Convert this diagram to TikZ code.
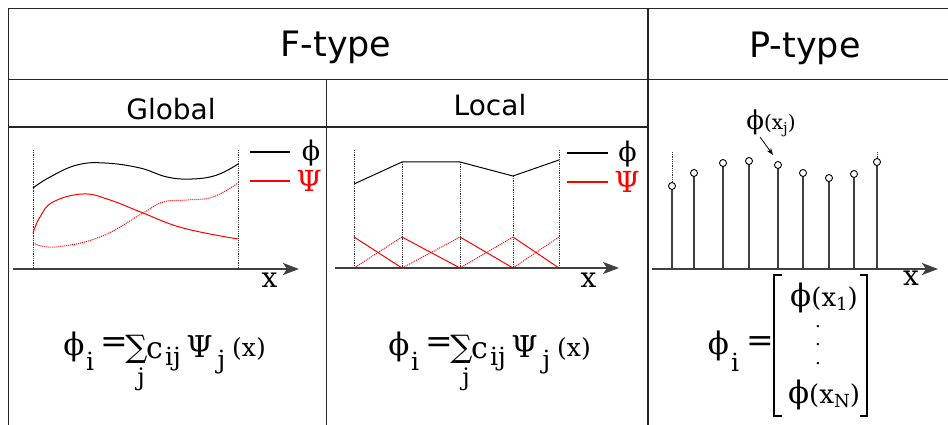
\documentclass[tikz,border=0pt]{standalone}
\usepackage{fontspec}
\setmainfont{DejaVu Sans}
\newfontfamily\mfont{DejaVu Serif}
\usetikzlibrary{arrows.meta}
\newcommand\mfs[1]{\mfont\fontsize{#1}{#1}\selectfont}
\newcommand\sfs[1]{\fontsize{#1}{#1}\selectfont}
\newcommand\sumj{\vbox{\offinterlineskip\halign{\hfil##\hfil\cr{\mfs{31}∑}\cr\noalign{\kern4pt}{\kern9pt\mfs{24}j}\cr}}}
\tikzset{
  tbl/.style={line width=1.5pt, draw=black!85},
  axisline/.style={line width=2pt, draw=black!75, -{Stealth[length=16pt,width=12pt,inset=4pt]}},
  guide/.style={densely dotted, line width=0.8pt, draw=black!80},
  curve/.style={line width=1pt},
  rcurve/.style={line width=1pt, draw=red},
  rdot/.style={line width=1pt, draw=red, densely dotted},
  stem/.style={line width=1.3pt, draw=black!75},
  pdot/.style={circle, draw=black, fill=white, inner sep=0pt, minimum size=7pt, line width=0.9pt},
  hdr/.style={anchor=base, inner sep=0pt},
  tok/.style={anchor=center, inner sep=0pt},
  legline/.style={line width=1.2pt},
}
\begin{document}
\begin{tikzpicture}[x=1pt,y=-1pt]
\useasboundingbox (0,0) rectangle (948,425);
% table
\draw[tbl] (8.5,425) -- (8.5,8.5) -- (948,8.5);
\draw[tbl] (8.5,79.5) -- (948,79.5);
\draw[tbl] (648,8.5) -- (648,425);
\draw[tbl] (326.5,79.5) -- (326.5,425);
\draw[tbl] (8.5,127) -- (648,127);
% headers
\node[hdr,font=\sfs{35}] (ft) at (336,57) {F-type};
\node[hdr,font=\sfs{35}] (pt) at (805,58) {P-type};
\node[hdr,font=\sfs{28}] (gl) at (171,120) {Global};
\node[hdr,font=\sfs{28}] (lo) at (490,116) {Local};

% ---------- Global plot ----------
\draw[guide] (33,150) -- (33,268);
\draw[guide] (238,150) -- (238,268);
\draw[curve] plot[smooth,tension=0.7] coordinates {(33,188) (50,177) (77,165) (105,163) (140,168) (167,177) (192,179) (217,175) (238,164)};
\draw[rcurve] plot[smooth,tension=0.7] coordinates {(33,233) (40,217) (53,202) (83,194) (110,200) (143,213) (183,228) (238,239)};
\draw[rdot] plot[smooth,tension=0.7] coordinates {(33,243) (55,247) (100,237) (143,213) (163,202) (187,200) (213,197) (238,183)};
\coordinate (ga0) at (13,269);
\coordinate (ga1) at (299,269);
\draw[axisline] (ga0) -- (ga1);
\node[tok,font=\mfs{28}] (gx) at (269.5,280) {x};
\draw[legline] (250,152) -- (290,152);
\draw[legline,red] (250,181) -- (290,181);
\node[tok,font=\mfs{27}] (gphi) at (311,153) {ϕ};
\node[tok,font=\mfs{29},text=red] (gpsi) at (309,181) {Ψ};

% ---------- Local plot ----------
\draw[guide] (354,150) -- (354,268);
\draw[guide] (402,162) -- (402,268);
\draw[guide] (460,162) -- (460,268);
\draw[guide] (513,176) -- (513,268);
\draw[guide] (559,150) -- (559,268);
\draw[curve] (354,184) -- (402,162) -- (460,162) -- (513,176) -- (559,160);
\foreach \a/\b in {354/402, 402/460, 460/513, 513/559} {
  \draw[rcurve] (\a,237) -- (\b,268);
  \draw[rdot] (\a,268) -- (\b,237);
}
\coordinate (la0) at (335,268);
\coordinate (la1) at (619,268);
\draw[axisline] (la0) -- (la1);
\node[tok,font=\mfs{28}] (lx) at (588.5,280) {x};
\draw[legline] (567,153) -- (608,153);
\draw[legline,red] (567,182) -- (608,182);
\node[tok,font=\mfs{27}] (lphi) at (627.5,154) {ϕ};
\node[tok,font=\mfs{29},text=red] (lpsi) at (627,181.5) {Ψ};

% ---------- P-type plot ----------
\foreach \i/\x/\y in {1/672/186, 2/694/173, 3/723/163, 4/749/161, 5/778/165, 6/803/173, 7/829/178, 8/854/174, 9/877/162} {
  \draw[stem] (\x,269) -- (\x,\y);
  \node[pdot] (p\i) at (\x,\y) {};
}
\draw[guide] (672,152) -- (p1.north);
\draw[guide] (877,152) -- (p9.north);
\coordinate (pa0) at (652,269);
\coordinate (pa1) at (938,269);
\draw[axisline] (pa0) -- (pa1);
\node[tok,font=\mfs{28}] (px) at (911,278.5) {x};
\node[tok] (plab) at (771,123) {{\mfs{26}ϕ}{\mfs{20}(x\raisebox{-4pt}{\mfs{15}j})}};
\coordinate (pa) at (760,137);
\coordinate (pb) at (773,155);
\draw[line width=0.8pt,-{Stealth[length=7pt,width=5pt]}] (pa) -- (pb);

% ---------- formulas ----------
\foreach \dx/\n in {0/g, 325/l} {
  \node[tok,font=\mfs{31}] (\n f1) at (74+\dx,347) {ϕ};
  \node[tok,font=\mfs{25}] (\n f2) at (90+\dx,361) {i};
  \node[tok,font=\mfs{33}] (\n f3) at (114+\dx,345) {=};
  \node[tok] (\n f4) at (136.5+\dx,363) {\sumj};
  \node[tok,font=\mfs{30}] (\n f6) at (154.5+\dx,351) {c};
  \node[tok,font=\mfs{25}] (\n f7) at (173+\dx,359) {ij};
  \node[tok,font=\mfs{30}] (\n f8) at (199.5+\dx,347) {Ψ};
  \node[tok,font=\mfs{25}] (\n f9) at (221.5+\dx,362) {j};
  \node[tok,font=\mfs{25}] (\n f10) at (249+\dx,349) {(x)};
}
\node[tok,font=\mfs{31}] (pf1) at (718.5,346) {ϕ};
\node[tok,font=\mfs{25}] (pf2) at (735,362) {i};
\node[tok,font=\mfs{33}] (pf3) at (760,344) {=};
\draw[line width=1.3pt] (782,275) -- (774,275) -- (774,416) -- (782,416);
\draw[line width=1.3pt] (860,275) -- (867,275) -- (867,416) -- (860,416);
\node[tok] (pv1) at (824,298) {{\mfs{31}ϕ}{\mfs{26}(x\raisebox{-4pt}{\mfs{18}1})}};
\node[tok,font=\mfs{18}] (pdots) at (818,345) {\vbox{\offinterlineskip\hbox{.}\vskip16pt\hbox{.}\vskip16pt\hbox{.}}};
\node[tok] (pv2) at (824,395) {{\mfs{31}ϕ}{\mfs{26}(x\raisebox{-4pt}{\mfs{18}N})}};
\end{tikzpicture}
\end{document}
